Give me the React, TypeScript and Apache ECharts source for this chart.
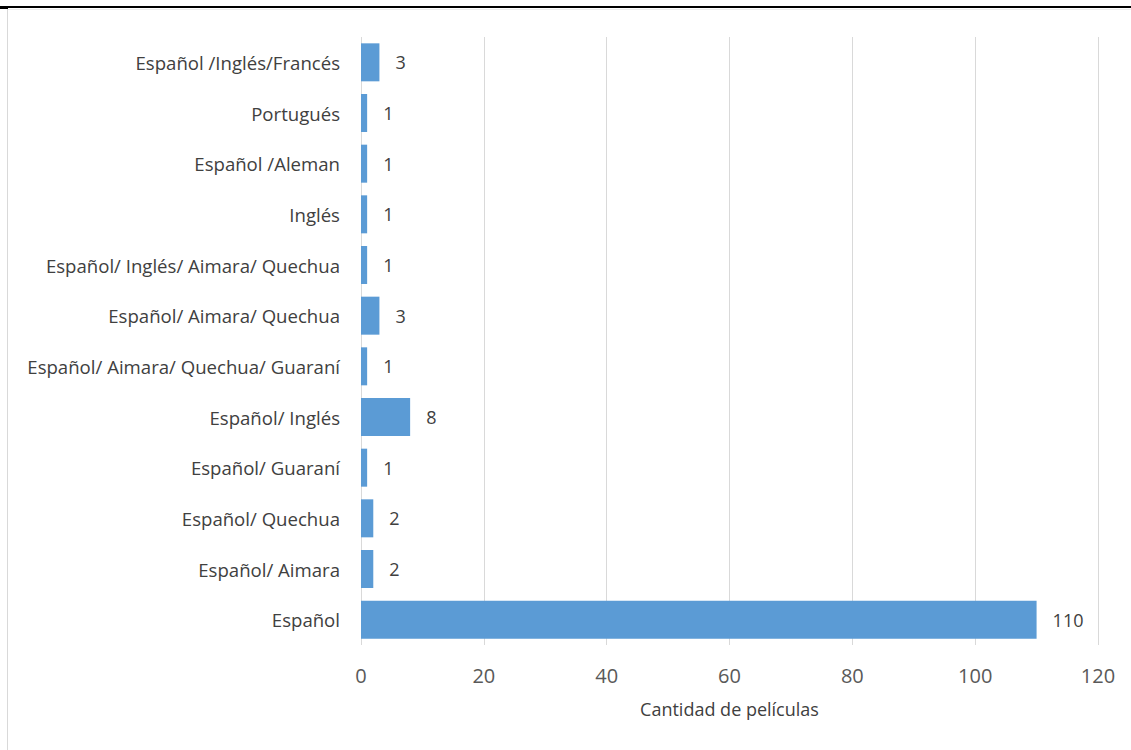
import React, { useEffect, useRef } from "react";
import * as echarts from "echarts";

// Languages, listed bottom-to-top as the category axis draws them
const categories = [
  "Español",
  "Español/ Aimara",
  "Español/ Quechua",
  "Español/ Guaraní",
  "Español/ Inglés",
  "Español/ Aimara/ Quechua/ Guaraní",
  "Español/ Aimara/ Quechua",
  "Español/ Inglés/ Aimara/ Quechua",
  "Inglés",
  "Español /Aleman",
  "Portugués",
  "Español /Inglés/Francés",
];
const filmCounts = [110, 2, 2, 1, 8, 1, 3, 1, 1, 1, 1, 3];
const xTicks = { min: 0, max: 120, interval: 20 };
const xAxisTitle = "Cantidad de películas";

const FONT = "'Open Sans', sans-serif";

export default function App() {
  const ref = useRef<HTMLDivElement>(null);

  useEffect(() => {
    if (!ref.current) return;
    const chart = echarts.init(ref.current, undefined, { renderer: "svg" });
    chart.setOption({
      animation: false,
      backgroundColor: "#ffffff",
      grid: { left: 361, right: 33, top: 37, bottom: 105, containLabel: false },
      xAxis: {
        type: "value",
        min: xTicks.min,
        max: xTicks.max,
        interval: xTicks.interval,
        name: xAxisTitle,
        nameLocation: "middle",
        nameGap: 55,
        nameTextStyle: { fontFamily: FONT, fontSize: 18, color: "#404040" },
        axisLine: { show: false },
        axisTick: { show: false },
        axisLabel: {
          fontFamily: FONT,
          fontSize: 20,
          color: "#595959",
          margin: 20,
        },
        splitLine: { show: true, lineStyle: { color: "#d9d9d9", width: 1 } },
      },
      yAxis: {
        type: "category",
        data: categories,
        axisLine: { show: false },
        axisTick: { show: false },
        axisLabel: {
          fontFamily: FONT,
          fontSize: 18.6,
          color: "#404040",
          margin: 21,
        },
        splitLine: { show: false },
      },
      series: [
        {
          type: "bar",
          data: filmCounts,
          barCategoryGap: "25%",
          itemStyle: { color: "#5b9bd5" },
          label: {
            show: true,
            position: "right",
            distance: 16,
            fontFamily: FONT,
            fontSize: 18,
            color: "#404040",
          },
        },
      ],
      graphic: [
        {
          type: "rect",
          shape: { x: 0, y: 6, width: 1131, height: 2 },
          style: { fill: "#000000" },
          silent: true,
        },
        {
          type: "rect",
          shape: { x: 0, y: 6, width: 8, height: 3 },
          style: { fill: "#000000" },
          silent: true,
        },
        {
          type: "line",
          shape: { x1: 7.5, y1: 9, x2: 7.5, y2: 750 },
          style: { stroke: "#d9d9d9", lineWidth: 1 },
          silent: true,
        },
        {
          type: "line",
          shape: { x1: 8, y1: 9.5, x2: 1131, y2: 9.5 },
          style: { stroke: "#eeeeee", lineWidth: 1 },
          silent: true,
        },
      ],
    });
    return () => chart.dispose();
  }, []);

  return (
    <div
      ref={ref}
      style={{ position: "fixed", left: 0, top: 0, width: 1131, height: 750 }}
    />
  );
}
